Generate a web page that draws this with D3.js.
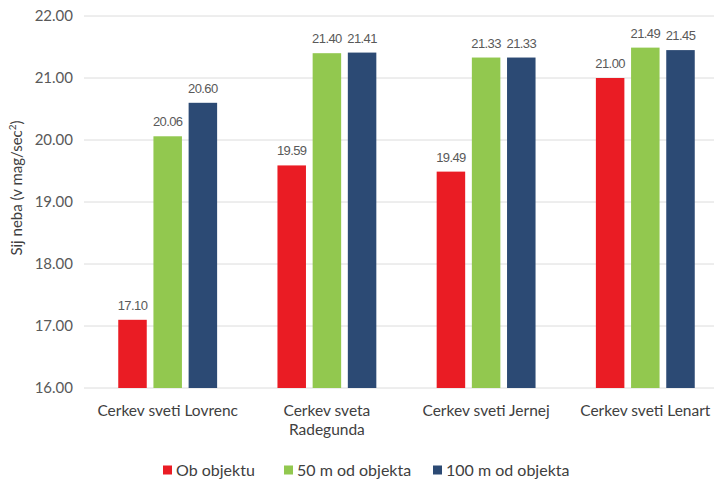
<!DOCTYPE html>
<html>
<head>
<meta charset="utf-8">
<script src="https://cdn.jsdelivr.net/npm/d3@7"></script>
<style>
  html, body { margin: 0; padding: 0; background: #fff; }
  svg { display: block; }
</style>
</head>
<body>
<svg id="chart" width="714" height="483"></svg>
<script>
// Sky brightness measurements at four churches
const categories = [["Cerkev sveti Lovrenc"], ["Cerkev sveta", "Radegunda"], ["Cerkev sveti Jernej"], ["Cerkev sveti Lenart"]];
const seriesNames = ["Ob objektu", "50 m od objekta", "100 m od objekta"];
const obObjektu = [17.10, 19.59, 19.49, 21.00];
const m50 = [20.06, 21.40, 21.33, 21.49];
const m100 = [20.60, 21.41, 21.33, 21.45];
const yTicks = [16, 17, 18, 19, 20, 21, 22];
const colors = ["#ea1c24", "#92c84f", "#2c4a74"];

const series = [obObjektu, m50, m100];
const svg = d3.select("#chart");
const labelFont = "Lato, 'Open Sans', sans-serif";

const y = d3.scaleLinear().domain([16, 22]).range([388, 16]);
const x0 = d3.scaleBand().domain(d3.range(categories.length)).range([88, 725]).paddingInner(0.379).paddingOuter(0.19);
const x1 = d3.scaleBand().domain(d3.range(series.length)).range([0, x0.bandwidth()]).paddingInner(0.19);

// gridlines
svg.append("g").selectAll("line").data(yTicks).join("line")
  .attr("x1", 84).attr("x2", 714)
  .attr("y1", d => y(d)).attr("y2", d => y(d))
  .attr("stroke", "#dcdcdc").attr("stroke-width", 1);

// y tick labels
const yAxis = d3.axisLeft(y).tickValues(yTicks).tickFormat(d3.format(".2f")).tickSize(0).tickPadding(0);
const ga = svg.append("g").attr("transform", "translate(73,0)").call(yAxis);
ga.select(".domain").remove();
ga.selectAll("text").attr("font-family", labelFont).attr("font-size", 15).attr("fill", "#595959");

// y axis title
svg.append("text")
  .attr("transform", "translate(22,188) rotate(-90)")
  .attr("text-anchor", "middle")
  .attr("font-family", labelFont).attr("font-size", 15).attr("fill", "#404040")
  .html('Sij neba (v mag/sec<tspan baseline-shift="super" font-size="10">2</tspan>)');

// bars and value labels
const groups = svg.append("g").selectAll("g").data(categories).join("g")
  .attr("transform", (d, i) => `translate(${x0(i)},0)`);

groups.each(function(c, i) {
  const g = d3.select(this);
  series.forEach((s, j) => {
    g.append("rect")
      .attr("x", x1(j)).attr("width", x1.bandwidth())
      .attr("y", y(s[i])).attr("height", y(16) - y(s[i]))
      .attr("fill", colors[j]);
    g.append("text")
      .attr("x", x1(j) + x1.bandwidth() / 2).attr("y", y(s[i]) - 10)
      .attr("text-anchor", "middle")
      .attr("font-family", "'Liberation Sans', Arial, sans-serif").attr("font-size", 13)
      .attr("letter-spacing", -0.6)
      .attr("fill", "#595959")
      .text(d3.format(".2f")(s[i]));
  });
  const t = g.append("text")
    .attr("x", x0.bandwidth() / 2).attr("y", 416)
    .attr("text-anchor", "middle")
    .attr("font-family", labelFont).attr("font-size", 15.5).attr("fill", "#404040");
  c.forEach((line, k) => t.append("tspan").attr("x", x0.bandwidth() / 2).attr("dy", k === 0 ? 0 : 19).text(line));
});

// legend
const legendX = [163, 284, 433];
const lg = svg.append("g").selectAll("g").data(seriesNames).join("g")
  .attr("transform", (d, i) => `translate(${legendX[i]},470)`);
lg.append("rect").attr("x", 0).attr("y", -4.5).attr("width", 9).attr("height", 9).attr("fill", (d, i) => colors[i]);
lg.append("text").attr("x", 13).attr("y", 5.5)
  .attr("font-family", labelFont).attr("font-size", 16).attr("fill", "#404040")
  .text(d => d);
</script>
</body>
</html>
